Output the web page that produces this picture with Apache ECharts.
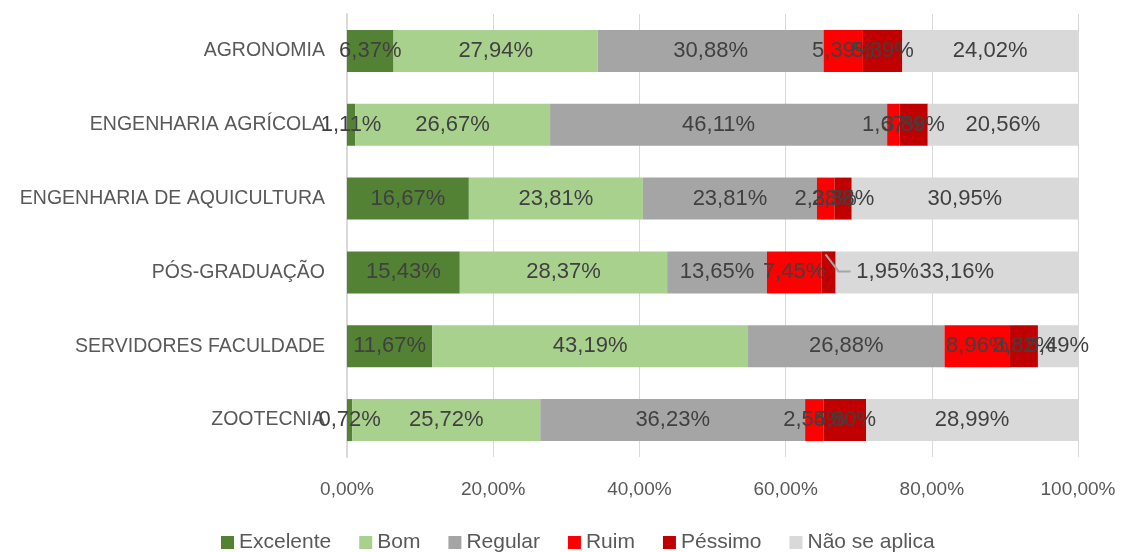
<!DOCTYPE html>
<html>
<head>
<meta charset="utf-8">
<script src="https://cdn.jsdelivr.net/npm/echarts@6/dist/echarts.min.js"></script>
<style>
html,body{margin:0;padding:0;background:#fff;}
#main{width:1122px;height:552px;}
</style>
</head>
<body>
<div id="main"></div>
<script>
// categorias (de cima para baixo)
var cursos = ['AGRONOMIA', 'ENGENHARIA AGRÍCOLA', 'ENGENHARIA DE AQUICULTURA', 'PÓS-GRADUAÇÃO', 'SERVIDORES FACULDADE', 'ZOOTECNIA'];
var nomes = ['Excelente', 'Bom', 'Regular', 'Ruim', 'Péssimo', 'Não se aplica'];
var cores = ['#548235', '#a9d18e', '#a5a5a5', '#ff0000', '#c00000', '#d9d9d9'];

var excelente = [6.37, 1.11, 16.67, 15.43, 11.67, 0.72];
var bom = [27.94, 26.67, 23.81, 28.37, 43.19, 25.72];
var regular = [30.88, 46.11, 23.81, 13.65, 26.88, 36.23];
var ruim = [5.39, 1.67, 2.38, 7.45, 8.96, 2.54];
var pessimo = [5.39, 3.89, 2.38, 1.95, 3.82, 5.80];
var naoSeAplica = [24.02, 20.56, 30.95, 33.16, 5.49, 28.99];
var xTicks = [0, 20, 40, 60, 80, 100];

var valores = [excelente, bom, regular, ruim, pessimo, naoSeAplica];
var fonte = 'Liberation Sans';
var LABEL_DESLOC = 59; // deslocamento do rótulo 1,95% (px)

function pct(v){
    return v.toFixed(2).replace('.', ',') + '%';
}

var series = [];
for (var i = 0; i < nomes.length; i++) {
    var s = {
        name: nomes[i],
        type: 'bar',
        stack: 'total',
        barWidth: 42,
        itemStyle: {color: cores[i]},
        label: {
            show: true,
            position: 'inside',
            color: '#404040',
            fontSize: 22,
            fontFamily: fonte,
            formatter: function(p){ return pct(p.value); }
        },
        data: valores[i]
    };
    if (i === 4) {
        // rótulo deslocado (PÓS-GRADUAÇÃO)
        s.labelLayout = function(p){
            if (p.dataIndex === 3) {
                return {
                    x: p.rect.x + p.rect.width / 2 + LABEL_DESLOC,
                    y: p.rect.y + p.rect.height / 2,
                    align: 'center',
                    verticalAlign: 'middle'
                };
            }
        };
    }
    series.push(s);
}

var chart = echarts.init(document.getElementById('main'));
chart.setOption({
    animation: false,
    legend: {
        top: 527,
        left: 216,
        icon: 'rect',
        itemWidth: 13,
        itemHeight: 13,
        itemGap: 28,
        textStyle: {color: '#595959', fontSize: 21, fontFamily: fonte},
        data: nomes
    },
    grid: {left: 347, right: 44, top: 14, bottom: 95},
    xAxis: {
        type: 'value',
        min: xTicks[0],
        max: xTicks[xTicks.length - 1],
        interval: 20,
        axisLine: {show: false},
        axisTick: {show: false},
        splitLine: {lineStyle: {color: '#d9d9d9', width: 1}},
        axisLabel: {
            color: '#595959',
            fontSize: 19,
            fontFamily: fonte,
            margin: 23,
            formatter: function(v){ return pct(v); }
        }
    },
    yAxis: {
        type: 'category',
        inverse: true,
        data: cursos,
        axisLine: {lineStyle: {color: '#d9d9d9', width: 2}},
        axisTick: {show: false},
        axisLabel: {color: '#595959', fontSize: 19.5, fontFamily: fonte, margin: 22}
    },
    series: series
});

// linha guia do rótulo 1,95%
var idx = 3;
var inicio = excelente[idx] + bom[idx] + regular[idx] + ruim[idx];
var meio = chart.convertToPixel({seriesIndex: 4}, [inicio + pessimo[idx] / 2, cursos[idx]]);
if (meio && !isNaN(meio[0])) {
    var topo = meio[1] - 42 / 2;
    chart.setOption({
        graphic: {
            elements: [{
                type: 'polyline',
                silent: true,
                z: 100,
                shape: {points: [
                    [meio[0] - 3, topo + 3],
                    [meio[0] + 10, meio[1] - 1],
                    [meio[0] + 22, meio[1] - 1]
                ]},
                style: {stroke: '#a5a5a5', lineWidth: 2, fill: 'none'}
            }]
        }
    });
}
</script>
</body>
</html>
